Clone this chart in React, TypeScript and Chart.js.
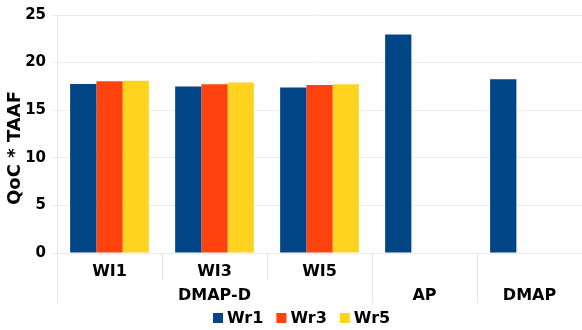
import React, { useEffect, useRef } from "react";
import { Chart, registerables } from "chart.js";

Chart.register(...registerables);

// Category labels: first row is the window setting, second row names the method
const categories: string[][] = [
  ["WI1", ""],
  ["WI3", "DMAP-D"],
  ["WI5", ""],
  ["", "AP"],
  ["", "DMAP"],
];

const seriesNames = ["Wr1", "Wr3", "Wr5"];
const seriesColors = ["#004586", "#ff420e", "#ffd320"];

const wr1Values = [17.75, 17.48, 17.38, 22.94, 18.24];
const wr3Values = [18.03, 17.72, 17.65, null, null];
const wr5Values = [18.1, 17.9, 17.72, null, null];

const yTicks = [0, 5, 10, 15, 20, 25];
const yTitle = "QoC * TAAF";

const FONT = "'DejaVu Sans', Verdana, sans-serif";

// Separators below the x axis: short ones between windows of the same group,
// long ones between method groups.
const groupEnds = [false, false, true, true, true];

const axisDecor = {
  id: "axisDecor",
  afterDraw(chart: any) {
    const { ctx, chartArea, scales } = chart;
    const x = scales.x;
    const n = categories.length;
    ctx.save();
    ctx.strokeStyle = "#e6e6e6";
    ctx.lineWidth = 1;
    const bottomLong = chartArea.bottom + 50;
    const bottomShort = chartArea.bottom + 27;
    // left edge of the axis
    ctx.beginPath();
    ctx.moveTo(Math.round(chartArea.left) + 0.5, chartArea.top);
    ctx.lineTo(Math.round(chartArea.left) + 0.5, bottomLong);
    ctx.stroke();
    for (let i = 0; i < n - 1; i++) {
      const px = (x.getPixelForValue(i) + x.getPixelForValue(i + 1)) / 2;
      ctx.beginPath();
      ctx.moveTo(Math.round(px) + 0.5, chartArea.bottom);
      ctx.lineTo(Math.round(px) + 0.5, groupEnds[i] ? bottomLong : bottomShort);
      ctx.stroke();
    }

    // y axis title
    ctx.fillStyle = "#000";
    ctx.font = `bold 18px ${FONT}`;
    ctx.textAlign = "center";
    ctx.textBaseline = "middle";
    ctx.translate(15, 148);
    ctx.rotate(-Math.PI / 2);
    ctx.fillText(yTitle, 0, 0);
    ctx.restore();

    // legend
    ctx.save();
    ctx.font = `bold 16px ${FONT}`;
    ctx.textBaseline = "middle";
    ctx.textAlign = "left";
    const box = 10;
    const gap = 4;
    const spacing = 13;
    const widths = chart.data.datasets.map(
      (d: any) => box + gap + ctx.measureText(d.label).width
    );
    let lx = 213;
    const ly = 318;
    chart.data.datasets.forEach((d: any, i: number) => {
      ctx.fillStyle = d.backgroundColor;
      ctx.fillRect(lx, ly - box / 2, box, box);
      ctx.fillStyle = "#000";
      ctx.fillText(d.label, lx + box + gap, ly + 1);
      lx += widths[i] + spacing;
    });
    ctx.restore();
  },
};

export default function App() {
  const canvasRef = useRef<HTMLCanvasElement | null>(null);

  useEffect(() => {
    if (!canvasRef.current) return;
    const chart = new Chart(canvasRef.current, {
      type: "bar",
      data: {
        labels: categories,
        datasets: [wr1Values, wr3Values, wr5Values].map((vals, i) => ({
          label: seriesNames[i],
          data: vals,
          backgroundColor: seriesColors[i],
          borderWidth: 0,
          categoryPercentage: 0.75,
          barPercentage: 1,
        })),
      },
      options: {
        responsive: false,
        animation: false,
        layout: { padding: { top: 13, right: 0, bottom: 27, left: 0 } },
        plugins: {
          legend: { display: false },
          tooltip: { enabled: false },
        },
        scales: {
          x: {
            grid: { display: false, drawTicks: false },
            border: { display: false },
            ticks: {
              color: "#000",
              font: { family: FONT, size: 16, weight: "bold", lineHeight: 1.5 },
              padding: 7,
              maxRotation: 0,
              autoSkip: false,
            },
            afterFit(scale: any) {
              scale.height = 50;
            },
          },
          y: {
            min: 0,
            max: 25,
            afterBuildTicks(scale: any) {
              scale.ticks = yTicks.map((v) => ({ value: v }));
            },
            grid: { color: "#ececec", tickLength: 5 },
            border: { display: false },
            ticks: {
              color: "#000",
              font: { family: FONT, size: 15, weight: "bold" },
              padding: 6,
            },
            afterFit(scale: any) {
              scale.width = 57;
            },
          },
        },
      },
      plugins: [axisDecor],
    });
    return () => chart.destroy();
  }, []);

  return (
    <div style={{ position: "absolute", left: 0, top: 0, width: 582, height: 330, background: "#fff" }}>
      <canvas ref={canvasRef} width={582} height={330} style={{ display: "block" }} />
    </div>
  );
}
